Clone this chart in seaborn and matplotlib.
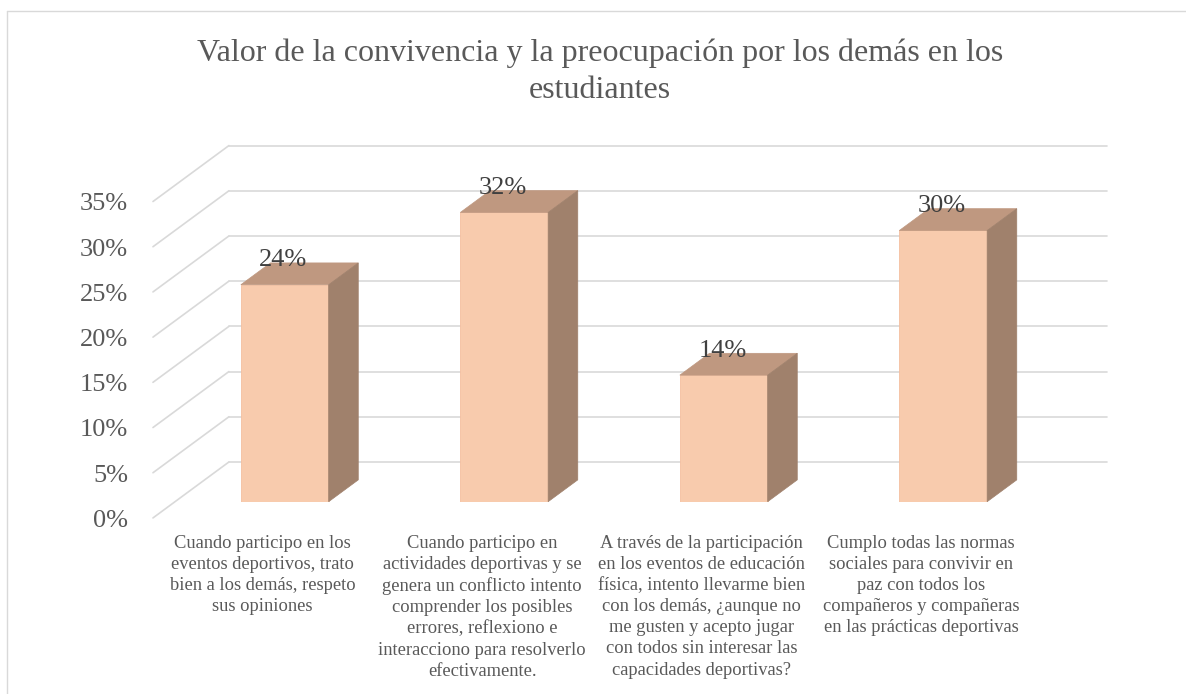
import matplotlib
matplotlib.use("Agg")
import matplotlib.pyplot as plt
from matplotlib.patches import Polygon
from matplotlib.lines import Line2D
import pandas as pd
import seaborn as sns

# data
title = "Valor de la convivencia y la preocupación por los demás en los\nestudiantes"
categories = [
    "Cuando participo en los\neventos deportivos, trato\nbien a los demás, respeto\nsus opiniones",
    "Cuando participo en\nactividades deportivas y se\ngenera un conflicto intento\ncomprender los posibles\nerrores, reflexiono e\ninteracciono para resolverlo\nefectivamente.",
    "A través de la participación\nen los eventos de educación\nfísica, intento llevarme bien\ncon los demás, ¿aunque no\nme gusten y acepto jugar\ncon todos sin interesar las\ncapacidades deportivas?",
    "Cumplo todas las normas\nsociales para convivir en\npaz con todos los\ncompañeros y compañeras\nen las prácticas deportivas",
]
values = [24, 32, 14, 30]
y_ticks = [0, 5, 10, 15, 20, 25, 30, 35]
y_tick_labels = ["0%", "5%", "10%", "15%", "20%", "25%", "30%", "35%"]

FRONT = "#F8CBAD"
TOP = "#BF9880"
SIDE = "#A0816C"
GRID = "#D9D9D9"
TEXT = "#595959"

# fake 3D: depth vector in data units, and where the bars sit in depth
DEPTH_X, DEPTH_Y = 0.346, 6.19
BAR_FRONT, BAR_BACK = 0.29, 0.68

sns.set_theme(style="white")
plt.rcParams["font.family"] = ["Liberation Serif", "DejaVu Serif"]

W, H = 1186, 694
fig = plt.figure(figsize=(W / 100, H / 100), dpi=100)
ax = fig.add_axes([175 / W, (H - 501.7) / H, 878 / W, 316.4 / H])

df = pd.DataFrame({"cat": categories, "val": values})
sns.barplot(data=df, x="cat", y="val", color=FRONT, width=0.4, saturation=1,
            edgecolor="#F4BFA0", linewidth=0.6, ax=ax, zorder=3)
ax.set_xlim(-0.5, 3.5)
ax.set_ylim(0, 35)
ax.axis("off")

# offsets from bar-front plane
fx, fy = -BAR_FRONT * DEPTH_X, -BAR_FRONT * DEPTH_Y          # front plane
bx, by = (1 - BAR_FRONT) * DEPTH_X, (1 - BAR_FRONT) * DEPTH_Y  # back wall
dx, dy = (BAR_BACK - BAR_FRONT) * DEPTH_X, (BAR_BACK - BAR_FRONT) * DEPTH_Y

# back wall + side wall gridlines
for t in y_ticks:
    ax.plot([-0.5 + bx, 3.5 + bx], [t + by, t + by], color=GRID, lw=1.2,
            clip_on=False, zorder=1)
    ax.plot([-0.5 + fx, -0.5 + bx], [t + fy, t + by], color=GRID, lw=1.2,
            clip_on=False, zorder=1)

for t, lab in zip(y_ticks, y_tick_labels):
    ax.annotate(lab, xy=(-0.5 + fx, t + fy), xytext=(-18, -2),
                textcoords="offset points", ha="right", va="center",
                fontsize=19, color=TEXT, annotation_clip=False)

# top and side faces of each bar, plus value labels
for p, v in zip(ax.patches, values):
    x0 = p.get_x()
    x1 = x0 + p.get_width()
    h = p.get_height()
    ax.add_patch(Polygon([(x0, h), (x1, h), (x1 + dx, h + dy), (x0 + dx, h + dy)],
                         closed=True, facecolor=TOP, edgecolor=TOP, lw=0.5,
                         clip_on=False, zorder=3))
    ax.add_patch(Polygon([(x1, 0), (x1 + dx, dy), (x1 + dx, h + dy), (x1, h)],
                         closed=True, facecolor=SIDE, edgecolor=SIDE, lw=0.5,
                         clip_on=False, zorder=3))
    ax.annotate(f"{v}%", xy=((x0 + x1) / 2, h + dy), xytext=(-1, 2),
                textcoords="offset points", ha="center", va="center",
                fontsize=19, color="#404040", annotation_clip=False, zorder=5)

for i, lab in enumerate(categories):
    ax.annotate(lab, xy=(i + fx, fy), xytext=(0, -12), textcoords="offset points",
                ha="center", va="top", fontsize=13.3, color=TEXT,
                linespacing=1.32, annotation_clip=False)

fig.text(600 / W, 1 - 39 / H, title, ha="center", va="top", fontsize=23,
         color=TEXT, linespacing=1.36)

# chart frame (left and top edges are visible)
fig.add_artist(Line2D([7 / W, 7 / W], [0, 1 - 11 / H], color=GRID, lw=1.0))
fig.add_artist(Line2D([7 / W, 1], [1 - 11 / H, 1 - 11 / H], color=GRID, lw=1.0))

fig.savefig("out.png", dpi=100)
